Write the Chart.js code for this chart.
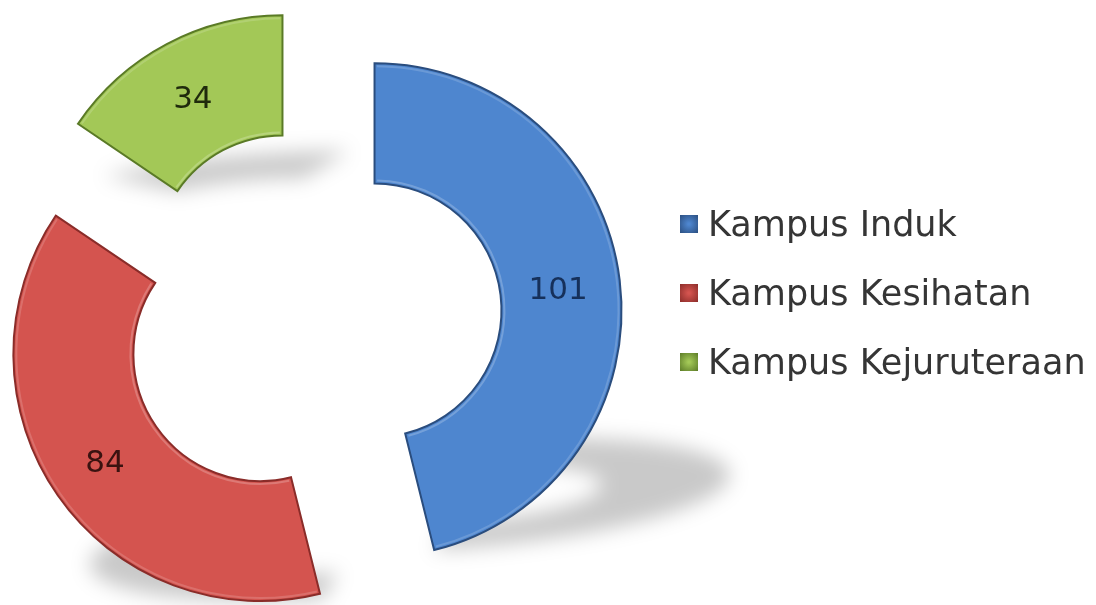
<!DOCTYPE html>
<html><head><meta charset="utf-8">
<script src="https://cdn.jsdelivr.net/npm/chart.js@4.4.1/dist/chart.umd.min.js"></script>
<style>html,body{margin:0;padding:0;background:#fff;}canvas{display:block;}</style>
</head><body>
<canvas id="c" width="1096" height="605"></canvas>
<script>
// ---- data ----
const categories = ['Kampus Induk', 'Kampus Kesihatan', 'Kampus Kejuruteraan'];
const values = [101, 84, 34];
const fillColors = ['#4e86cf', '#d4544f', '#a3c857'];
const borderColors = ['#2a4d7e', '#8a2c29', '#5a7a26'];
const labelColors = ['#16305a', '#3a1210', '#1f2a0c'];

// ---- style constants ----
const EXPLODE = 63;
const OUTER_R = 247;
const CUTOUT = '51.4%';

function arcPath(ctx, a) {
  ctx.beginPath();
  ctx.arc(a.x, a.y, a.outerRadius, a.startAngle, a.endAngle);
  ctx.arc(a.x, a.y, a.innerRadius, a.endAngle, a.startAngle, true);
  ctx.closePath();
}
function lowestY(a, dy) {
  let m = -Infinity;
  for (let i = 0; i <= 90; i++) {
    const t = a.startAngle + (a.endAngle - a.startAngle) * i / 90;
    m = Math.max(m, a.y + dy + Math.sin(t) * a.outerRadius, a.y + dy + Math.sin(t) * a.innerRadius);
  }
  return m;
}
function shift(a) {
  const mid = (a.startAngle + a.endAngle) / 2;
  return [Math.cos(mid) * EXPLODE, Math.sin(mid) * EXPLODE];
}

const explodePlugin = {
  id: 'explode',
  beforeDatasetDraw(chart, args) {
    const ctx = chart.ctx;
    const arcs = args.meta.data;
    // perspective shadows
    arcs.forEach(a => {
      const [dx, dy] = shift(a);
      const yb = lowestY(a, dy);
      ctx.save();
      ctx.filter = 'blur(10px)';
      ctx.transform(1, 0, -0.38, 0.23, 0.38 * yb, 0.77 * yb);
      ctx.translate(dx, dy);
      arcPath(ctx, a);
      ctx.fillStyle = 'rgba(0,0,0,0.21)';
      ctx.fill();
      ctx.restore();
    });
    // slices
    arcs.forEach((a, i) => {
      const [dx, dy] = shift(a);
      ctx.save();
      ctx.translate(dx, dy);
      a.draw(ctx);
      // bevel highlight along edges
      ctx.beginPath();
      ctx.arc(a.x, a.y, a.innerRadius + 3, a.startAngle + 0.02, a.endAngle - 0.02);
      ctx.strokeStyle = 'rgba(255,255,255,0.22)';
      ctx.lineWidth = 2;
      ctx.stroke();
      ctx.beginPath();
      ctx.arc(a.x, a.y, a.outerRadius - 3, a.startAngle + 0.01, a.endAngle - 0.01);
      ctx.strokeStyle = 'rgba(255,255,255,0.16)';
      ctx.lineWidth = 2;
      ctx.stroke();
      ctx.restore();
    });
    return false;
  },
  afterDatasetsDraw(chart) {
    const ctx = chart.ctx;
    const arcs = chart.getDatasetMeta(0).data;
    ctx.save();
    ctx.font = '31px "DejaVu Sans"';
    ctx.textAlign = 'center';
    ctx.textBaseline = 'middle';
    arcs.forEach((a, i) => {
      const mid = (a.startAngle + a.endAngle) / 2;
      const r = (a.innerRadius + a.outerRadius) / 2 + EXPLODE;
      ctx.fillStyle = labelColors[i];
      ctx.fillText(String(values[i]), a.x + Math.cos(mid) * r - 2, a.y + Math.sin(mid) * r + 3);
    });
    ctx.restore();
  }
};

const legendPlugin = {
  id: 'sideLegend',
  afterDraw(chart) {
    const ctx = chart.ctx;
    ctx.save();
    ctx.font = '35px "DejaVu Sans"';
    ctx.textBaseline = 'alphabetic';
    ctx.textAlign = 'left';
    categories.forEach((c, i) => {
      const base = 236 + i * 69;
      const s = 18, bx = 680, by = base - 21;
      const g = ctx.createRadialGradient(bx + s / 2, by + s / 2, 1, bx + s / 2, by + s / 2, s * 0.72);
      g.addColorStop(0, fillColors[i]);
      g.addColorStop(1, borderColors[i]);
      ctx.fillStyle = g;
      ctx.fillRect(bx, by, s, s);
      ctx.fillStyle = '#353535';
      ctx.fillText(c, 708, base);
    });
    ctx.restore();
  }
};

new Chart(document.getElementById('c'), {
  type: 'doughnut',
  data: {
    labels: categories,
    datasets: [{
      data: values,
      backgroundColor: fillColors,
      borderColor: borderColors,
      hoverBackgroundColor: fillColors,
      hoverBorderColor: borderColors,
      borderWidth: 2,
      hoverBorderWidth: 2,
      borderJoinStyle: 'miter'
    }]
  },
  options: {
    responsive: false,
    animation: false,
    events: [],
    radius: OUTER_R,
    cutout: CUTOUT,
    layout: { padding: { left: 10, right: 482, top: 36, bottom: 5 } },
    plugins: { legend: { display: false }, tooltip: { enabled: false } }
  },
  plugins: [explodePlugin, legendPlugin]
});
</script>
</body></html>
